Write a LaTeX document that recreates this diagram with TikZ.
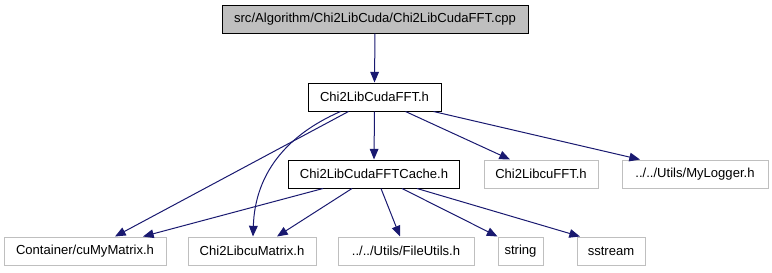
\documentclass[tikz,border=0pt]{standalone}
\usepackage{fontspec}
\setmainfont{Liberation Sans}
\usepackage{tikz}
\usetikzlibrary{arrows.meta, calc}

\definecolor{edgeblue}{HTML}{191970}
\definecolor{boxgray}{HTML}{BFBFBF}

\tikzset{
  inc/.style={rectangle, draw=boxgray, line width=0.75pt, minimum height=21pt, inner sep=0pt, font=\fontsize{9.8}{12}\selectfont},
  own/.style={inc, draw=black},
  dep/.style={edgeblue, line width=0.75pt, -{Triangle[length=8pt, width=6.5pt]}}
}

\begin{document}
\begin{tikzpicture}[x=0.75pt, y=-0.75pt]
    \useasboundingbox (0, 0) rectangle (772, 272);

    \node[own, fill=boxgray, minimum width=229.5pt] (src) at (375, 19) {src/Algorithm/Chi2LibCuda/Chi2LibCudaFFT.cpp};
    \node[own, minimum width=99.75pt] (fft) at (374.5, 97) {Chi2LibCudaFFT.h};

    \node[own, minimum width=128.25pt] (cache) at (374, 174) {Chi2LibCudaFFTCache.h};
    \node[inc, minimum width=85.5pt] (cufft) at (541, 174) {Chi2LibcuFFT.h};
    \node[inc, minimum width=109.5pt] (logger) at (695, 174) {../../Utils/MyLogger.h};

    \node[inc, minimum width=121.5pt] (cumy) at (85, 251) {Container/cuMyMatrix.h};
    \node[inc, minimum width=96pt] (cumat) at (252, 251) {Chi2LibcuMatrix.h};
    \node[inc, minimum width=102pt] (fileutils) at (406, 251) {../../Utils/FileUtils.h};
    \node[inc, minimum width=33.75pt] (string) at (520.5, 251) {string};
    \node[inc, minimum width=51pt] (sstream) at (611, 251) {sstream};

    % includes of the .cpp and of Chi2LibCudaFFT.h
    \draw[dep] (src.south) -- (fft.north);
    \draw[dep] (fft.south) -- (cache.north);
    \draw[dep] ($(fft.south)+(31,0)$) -- ($(cufft.north)+(-31,0)$);
    \draw[dep] ($(fft.south)+(59,0)$) -- ($(logger.north)+(-55,0)$);
    \draw[dep] ($(fft.south)+(-26,0)$) -- ($(cumy.north)+(30,0)$);
    \draw[dep] ($(fft.south)+(-34,0)$) .. controls +(-55, 24) and +(2, -62) .. ($(cumat.north)+(1,0)$);

    % includes of Chi2LibCudaFFTCache.h
    \draw[dep] ($(cache.south)+(-51,0)$) -- ($(cumy.north)+(58,0)$);
    \draw[dep] ($(cache.south)+(-22,0)$) -- ($(cumat.north)+(25,0)$);
    \draw[dep] ($(cache.south)+(7,0)$) -- ($(fileutils.north)+(-6,0)$);
    \draw[dep] ($(cache.south)+(28,0)$) -- ($(string.north)+(-23,0)$);
    \draw[dep] ($(cache.south)+(43,0)$) -- ($(sstream.north)+(-31,0)$);
  \end{tikzpicture}
\end{document}
